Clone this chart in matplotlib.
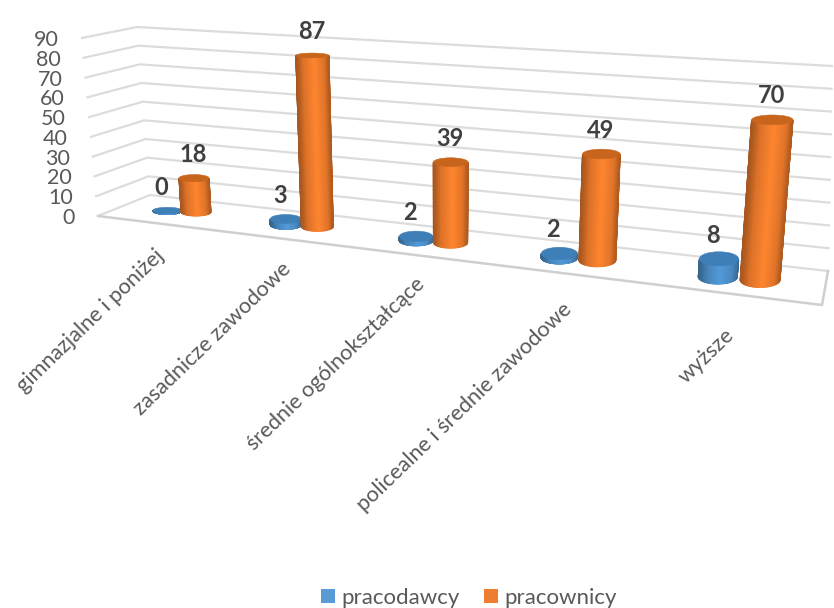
from matplotlib import pyplot as plt
from matplotlib.patches import Ellipse, Patch
from matplotlib.colors import LinearSegmentedColormap, to_rgb
import numpy as np

categories = ['gimnazjalne i poniżej', 'zasadnicze zawodowe', 'średnie ogólnokształcące',
              'policealne i średnie zawodowe', 'wyższe']
pracodawcy = [0, 3, 2, 2, 8]
pracownicy = [18, 87, 39, 49, 70]
ticks = [0, 10, 20, 30, 40, 50, 60, 70, 80, 90]

plt.rcParams['font.family'] = ['Lato', 'DejaVu Sans']

# the fake perspective of the 3d chart, everything in pixels of the picture
K = 22.5
Q = 58700.0
LEAN = 4200.0
label_dx = [-6, 0, 0, 0, 0]
label_dy = [-2, -3, -4, 4, 10]


def base_x(u):
    return 196 + Q / (K - u) - Q / K


def base_y(x):
    return 212 + (x - 196) * 0.1204


def spacing(u):
    return Q / (K - u) ** 2


def unit(x):
    return 1.88 + (x - 196) * 0.00072


def side_cmap(col):
    # dark at both edges of the cylinder, brightest a bit right of the middle
    c = np.array(to_rgb(col))
    stops = [(0.0, 0.68), (0.08, 0.74), (0.22, 0.90), (0.55, 1.05), (0.85, 0.92), (1.0, 0.72)]
    return LinearSegmentedColormap.from_list('side', [(p, tuple(np.clip(c * k, 0, 1))) for p, k in stops])


def cylinder(ax, u, val, col, top_col, dy, z):
    x0 = base_x(u)
    y0 = base_y(x0) + dy
    h = val * unit(x0)
    x1 = x0 + (x0 - 440) / LEAN * h
    y1 = y0 - h
    r0 = 4.5 + 0.09 * spacing(u)
    r1 = r0 * (1 + h / LEAN)
    a = 0.27 + 0.11 * u / 4
    ry0 = r0 * a
    ry1 = r1 * max(0.13, a - 0.0009 * h)
    if val == 0:
        ry1 = r1 * 0.22
    th = np.linspace(np.pi, 0, 41)
    w = np.linspace(0, 1, 25)[:, None]
    xs = (1 - w) * (x0 + r0 * np.cos(th)) + w * (x1 + r1 * np.cos(th))
    ys = (1 - w) * (y0 + ry0 * np.sin(th)) + w * (y1 + ry1 * np.sin(th))
    t = np.tile((1 + np.cos(th)) / 2, (len(w), 1))
    ax.pcolormesh(xs, ys, t, shading='gouraud', cmap=side_cmap(col), vmin=0, vmax=1, zorder=z)
    ax.add_patch(Ellipse((x1, y1), 2 * r1, 2 * ry1, fc=top_col, ec=top_col, lw=0.4, zorder=z + 0.1))
    return x1, y1


fig = plt.figure(figsize=(8.34, 6.08), dpi=100)
ax = fig.add_axes([0, 0, 1, 1])
ax.set_xlim(0, 834)
ax.set_ylim(608, 0)
ax.axis('off')

grid = '#dcdcdc'
top = max(ticks)
for v in ticks:
    f = v / top
    lx, ly = 98 - 16 * f, 216 - 178 * f
    bx, by = 150 - 13 * f, 195 - 168 * f
    rx, ry = 828 + 4 * f, 271 - 205 * f
    ax.plot([lx, bx, rx], [ly, by, ry], color=grid, lw=1.6, zorder=1, solid_joinstyle='miter')
    ax.text(75 - 16 * f, ly + 2, str(v), ha='right', va='center', fontsize=15.5, color='#595959')

# front and right edge of the floor
ax.plot([98, 822, 828], [216, 305, 271], color='#cfcfcf', lw=1.8, zorder=1)

blue, blue_top = '#4f94d0', '#3f7fb8'
orange, orange_top = '#f57f2d', '#c7651c'
for i in range(len(categories)):
    xb, yb = cylinder(ax, i - 0.25, pracodawcy[i], blue, blue_top, 2, 2 + i)
    xo, yo = cylinder(ax, i, pracownicy[i], orange, orange_top, 0, 2.5 + i)
    ax.text(xb - 6, yb - 23.5, str(pracodawcy[i]), ha='center', va='center', fontsize=17,
            fontweight='bold', color='#404040', zorder=20)
    ax.text(xo - 1, yo - 24, str(pracownicy[i]), ha='center', va='center', fontsize=17,
            fontweight='bold', color='#404040', zorder=20)
    ax.text(base_x(i) - 36 + label_dx[i], base_y(base_x(i)) + 35 + label_dy[i], categories[i],
            rotation=44, rotation_mode='anchor', ha='right', va='top', fontsize=15.6, color='#595959')

handles = [Patch(fc='#5b9bd5', label='pracodawcy'), Patch(fc='#ed7d31', label='pracownicy')]
ax.legend(handles=handles, ncol=2, loc='center', bbox_to_anchor=(469, 598),
          bbox_transform=ax.transData, frameon=False, fontsize=16, labelcolor='#595959',
          handlelength=0.63, handleheight=0.63, handletextpad=0.3, columnspacing=1.1)

fig.savefig('out.png', dpi=100)
